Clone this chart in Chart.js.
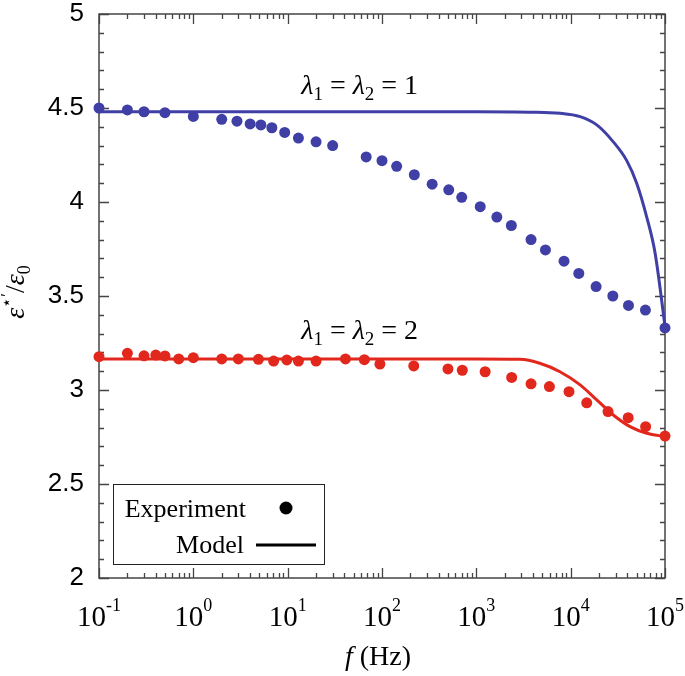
<!DOCTYPE html>
<html>
<head>
<meta charset="utf-8">
<script src="https://cdn.jsdelivr.net/npm/chart.js@4.4.0/dist/chart.umd.min.js"></script>
<style>
  html, body { margin: 0; padding: 0; background: #fff; }
  #wrap { width: 685px; height: 676px; }
</style>
</head>
<body>
<div id="wrap"><canvas id="myChart" width="685" height="676"></canvas></div>
<script>
// measured points, lambda1 = lambda2 = 1
const freqBlue = [0.1, 0.2, 0.3, 0.5, 1, 2, 2.9, 4, 5.2, 6.8, 9.3, 13, 20, 30, 68, 100, 143, 220, 340, 510, 700,
    1100, 1650, 2350, 3800, 5400, 8500, 12200, 18600, 28000, 41000, 62000, 100000];
const blueExp = [4.50, 4.49, 4.48, 4.475, 4.455, 4.44, 4.43, 4.415, 4.41, 4.395, 4.37, 4.34, 4.32, 4.30, 4.24, 4.22, 4.19,
    4.145, 4.095, 4.065, 4.025, 3.975, 3.92, 3.875, 3.80, 3.745, 3.685, 3.62, 3.55, 3.50, 3.45, 3.425, 3.33];

// measured points, lambda1 = lambda2 = 2
const freqRed = [0.1, 0.2, 0.3, 0.4, 0.5, 0.7, 1, 2, 3, 4.9, 7.1, 9.8, 13, 20, 41, 65, 95, 217, 500, 710, 1240,
    2370, 3800, 5950, 9600, 14800, 24900, 40700, 62300, 100000];
const redExp = [3.177, 3.195, 3.182, 3.186, 3.181, 3.165, 3.172, 3.165, 3.165, 3.163, 3.154, 3.16, 3.154, 3.154, 3.165,
    3.161, 3.138, 3.128, 3.112, 3.105, 3.097, 3.067, 3.033, 3.018, 2.991, 2.932, 2.885, 2.853, 2.805, 2.755];

// model curves
const modelFreqBlue = [0.1, 1000, 3700, 7700, 12600, 18900, 28300, 39300, 50100, 64000, 78400, 100000];
const blueModel = [4.48, 4.48, 4.478, 4.472, 4.454, 4.41, 4.32, 4.22, 4.10, 3.92, 3.73, 3.34];
const modelFreqRed = [0.1, 1000, 2900, 4700, 7700, 12600, 18900, 28300, 42600, 64000, 100000];
const redModel = [3.165, 3.165, 3.163, 3.142, 3.097, 3.027, 2.947, 2.867, 2.805, 2.77, 2.752];

const xDecades = [-1, 0, 1, 2, 3, 4, 5];

const BLUE = '#3f3fa6';
const RED = '#e2281d';
const SERIF = '"Liberation Serif", "DejaVu Serif", serif';

function pts(xs, ys) {
    return xs.map((x, i) => ({ x: x, y: ys[i] }));
}

// draw a run of text pieces: [text, size, italic, dy]
function drawPieces(ctx, pieces, x, y, align) {
    let total = 0;
    pieces.forEach(p => {
        ctx.font = (p[2] ? 'italic ' : '') + p[1] + 'px ' + SERIF;
        p.w = ctx.measureText(p[0]).width;
        total += p.w;
    });
    let cx = align === 'center' ? x - total / 2 : (align === 'right' ? x - total : x);
    ctx.textBaseline = 'alphabetic';
    ctx.textAlign = 'left';
    pieces.forEach(p => {
        ctx.font = (p[2] ? 'italic ' : '') + p[1] + 'px ' + SERIF;
        ctx.fillText(p[0], cx, y + (p[3] || 0));
        cx += p.w;
    });
}

const framePlugin = {
    id: 'frame',
    beforeDatasetsDraw(chart) {
        const { ctx, chartArea: a, scales } = chart;
        const xs = scales.x, ys = scales.y;
        ctx.save();
        ctx.strokeStyle = '#444';
        ctx.lineWidth = 1.5;
        ctx.strokeRect(a.left, a.top, a.right - a.left, a.bottom - a.top);
        ctx.lineWidth = 1.3;
        ctx.beginPath();
        xDecades.forEach(d => {
            for (let k = 1; k <= 9; k++) {
                const v = k * Math.pow(10, d);
                if (v > 100000 * 1.0001) break;
                const px = Math.round(xs.getPixelForValue(v)) + 0.5;
                const len = k === 1 ? 10 : 5;
                ctx.moveTo(px, a.bottom); ctx.lineTo(px, a.bottom - len);
                ctx.moveTo(px, a.top); ctx.lineTo(px, a.top + len);
            }
        });
        for (let i = 0; i <= 30; i++) {
            const v = 2 + i * 0.1;
            const py = Math.round(ys.getPixelForValue(v)) + 0.5;
            const len = i % 5 === 0 ? 10 : 5;
            ctx.moveTo(a.left, py); ctx.lineTo(a.left + len, py);
            ctx.moveTo(a.right, py); ctx.lineTo(a.right - len, py);
        }
        ctx.stroke();
        ctx.restore();
    },
    afterDraw(chart) {
        const { ctx, chartArea: a, scales } = chart;
        const xs = scales.x, ys = scales.y;
        ctx.save();
        ctx.fillStyle = '#000';

        // x tick labels 10^n
        xDecades.forEach(d => {
            const px = xs.getPixelForValue(Math.pow(10, d));
            drawPieces(ctx, [['10', 29, false, 0], [String(d), 18, false, -15]], px, a.bottom + 48, 'center');
        });

        // x title
        drawPieces(ctx, [['f', 28, true, 0], [' (Hz)', 28, false, 0]], 378, 665, 'center');

        // y title, rotated
        ctx.save();
        ctx.translate(24, 292);
        ctx.rotate(-Math.PI / 2);
        drawPieces(ctx, [['ε', 28, true, 0], ['⋆′', 17, false, -12], ['/', 28, false, 0],
            ['ε', 28, true, 0], ['0', 18, false, 6]], 0, 0, 'center');
        ctx.restore();

        // curve labels
        drawPieces(ctx, [['λ', 28, true, 0], ['1', 19, false, 6], [' = ', 28, false, 0],
            ['λ', 28, true, 0], ['2', 19, false, 6], [' = 1', 28, false, 0]],
            xs.getPixelForValue(58), ys.getPixelForValue(4.574), 'center');
        drawPieces(ctx, [['λ', 28, true, 0], ['1', 19, false, 6], [' = ', 28, false, 0],
            ['λ', 28, true, 0], ['2', 19, false, 6], [' = 2', 28, false, 0]],
            xs.getPixelForValue(58), ys.getPixelForValue(3.27), 'center');

        // legend box
        ctx.fillStyle = '#fff';
        ctx.fillRect(113, 484, 212, 81);
        ctx.strokeStyle = '#222';
        ctx.lineWidth = 1;
        ctx.strokeRect(113.5, 484.5, 211, 80);
        ctx.fillStyle = '#000';
        drawPieces(ctx, [['Experiment', 26, false, 0]], 246, 517, 'right');
        drawPieces(ctx, [['Model', 26, false, 0]], 244, 553, 'right');
        ctx.beginPath();
        ctx.arc(286, 508, 6.5, 0, Math.PI * 2);
        ctx.fill();
        ctx.lineWidth = 3;
        ctx.strokeStyle = '#000';
        ctx.beginPath();
        ctx.moveTo(256, 545); ctx.lineTo(316, 545);
        ctx.stroke();
        ctx.restore();
    }
};

const ctx1 = document.getElementById('myChart').getContext('2d');
const config1 = {
    type: 'scatter',
    data: {
        datasets: [
            {
                label: 'Model λ=1',
                data: pts(modelFreqBlue, blueModel),
                showLine: true,
                borderColor: BLUE,
                borderWidth: 3,
                pointRadius: 0,
                cubicInterpolationMode: 'monotone',
                clip: false
            },
            {
                label: 'Model λ=2',
                data: pts(modelFreqRed, redModel),
                showLine: true,
                borderColor: RED,
                borderWidth: 3,
                pointRadius: 0,
                cubicInterpolationMode: 'monotone',
                clip: false
            },
            {
                label: 'Experiment λ=1',
                data: pts(freqBlue, blueExp),
                backgroundColor: BLUE,
                borderColor: BLUE,
                borderWidth: 0,
                pointRadius: 5.5,
                clip: false
            },
            {
                label: 'Experiment λ=2',
                data: pts(freqRed, redExp),
                backgroundColor: RED,
                borderColor: RED,
                borderWidth: 0,
                pointRadius: 5.5,
                clip: false
            }
        ]
    },
    options: {
        responsive: false,
        animation: false,
        layout: { padding: { top: 14, right: 20, left: 0, bottom: 0 } },
        plugins: {
            legend: { display: false },
            tooltip: { enabled: false }
        },
        scales: {
            x: {
                type: 'logarithmic',
                min: 0.1,
                max: 100000,
                grid: { display: false, drawTicks: false },
                border: { display: false },
                ticks: { display: false },
                afterFit: function (scale) { scale.height = 98; }
            },
            y: {
                type: 'linear',
                min: 2,
                max: 5,
                grid: { display: false, drawTicks: false },
                border: { display: false },
                ticks: {
                    stepSize: 0.5,
                    padding: 15,
                    color: '#000',
                    font: { family: '"Liberation Sans", Arial, sans-serif', size: 26, lineHeight: 1 },
                    callback: value => String(value)
                },
                afterFit: function (scale) {
                    scale.width = 99;
                    scale.paddingTop = 0;
                    scale.paddingBottom = 0;
                }
            }
        }
    },
    plugins: [framePlugin]
};
const myChart = new Chart(ctx1, config1);
</script>
</body>
</html>
